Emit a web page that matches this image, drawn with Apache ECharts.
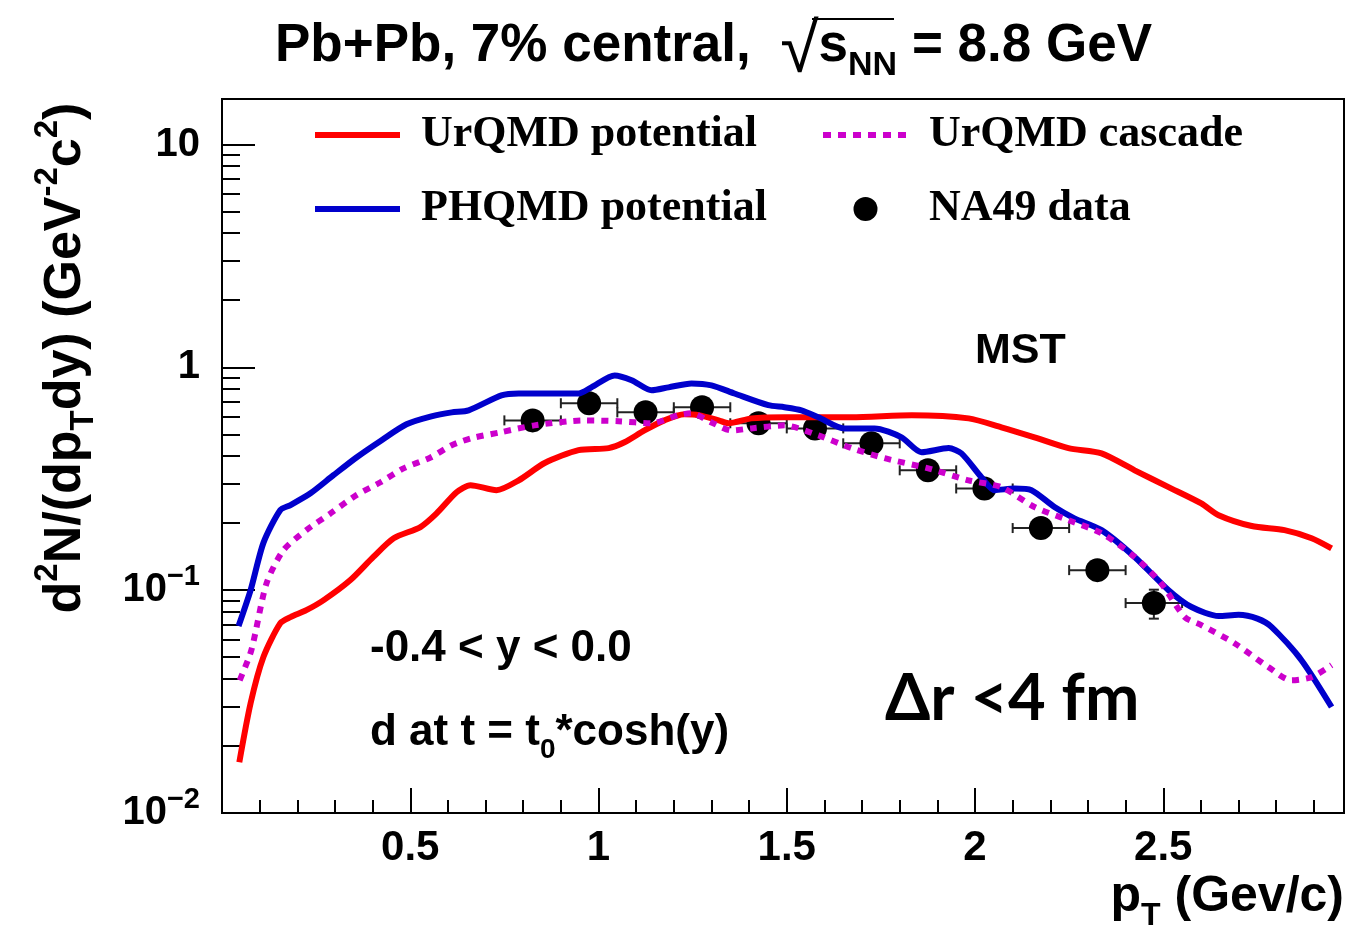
<!DOCTYPE html>
<html>
<head>
<meta charset="utf-8">
<title>d spectrum</title>
<script src="https://cdn.jsdelivr.net/npm/echarts@6/dist/echarts.min.js"></script>
<style>
  html, body { margin: 0; padding: 0; background: #fff; }
  #main { width: 1347px; height: 936px; }
</style>
</head>
<body>
<div id="main"></div>
<script>
var SANS = '"Liberation Sans", Arial, Helvetica, sans-serif';
var SERIF = '"Liberation Serif", "Times New Roman", serif';

// model curves, [pT, d2N/(dpT dy)]
var urqmdPotential = [
    [0.046, 0.0169], [0.076, 0.0311], [0.110, 0.0501], [0.155, 0.0711], [0.182, 0.0757],
    [0.224, 0.0813], [0.270, 0.0902], [0.341, 0.111], [0.402, 0.141], [0.456, 0.171],
    [0.527, 0.192], [0.570, 0.221], [0.623, 0.275], [0.660, 0.296], [0.729, 0.281],
    [0.788, 0.311], [0.857, 0.372], [0.947, 0.425], [1.027, 0.434], [1.069, 0.461],
    [1.122, 0.521], [1.175, 0.578], [1.228, 0.615], [1.266, 0.610], [1.319, 0.578],
    [1.345, 0.561], [1.406, 0.590], [1.494, 0.597], [1.672, 0.597], [1.832, 0.610],
    [1.983, 0.590], [2.070, 0.538], [2.158, 0.485], [2.248, 0.434], [2.336, 0.411],
    [2.424, 0.345], [2.514, 0.290], [2.601, 0.245], [2.647, 0.217], [2.735, 0.194],
    [2.822, 0.186], [2.894, 0.171], [2.947, 0.154]
];
var phqmdPotential = [
    [0.044, 0.069], [0.076, 0.100], [0.110, 0.163], [0.155, 0.229], [0.182, 0.241],
    [0.235, 0.272], [0.296, 0.328], [0.357, 0.394], [0.424, 0.471], [0.490, 0.555],
    [0.556, 0.602], [0.610, 0.628], [0.655, 0.641], [0.742, 0.748], [0.788, 0.763],
    [0.875, 0.763], [0.947, 0.763], [0.981, 0.813], [1.043, 0.920], [1.088, 0.875],
    [1.141, 0.789], [1.186, 0.813], [1.247, 0.847], [1.300, 0.830], [1.361, 0.763],
    [1.451, 0.676], [1.494, 0.662], [1.539, 0.641], [1.584, 0.597], [1.653, 0.532],
    [1.733, 0.532], [1.805, 0.485], [1.858, 0.416], [1.930, 0.434], [1.964, 0.411],
    [2.017, 0.321], [2.052, 0.281], [2.105, 0.286], [2.150, 0.281], [2.211, 0.236],
    [2.264, 0.210], [2.336, 0.186], [2.424, 0.141], [2.514, 0.100], [2.575, 0.084],
    [2.647, 0.0765], [2.700, 0.0775], [2.750, 0.0745], [2.788, 0.0683], [2.867, 0.0485],
    [2.947, 0.0299]
];
var urqmdCascade = [
    [0.047, 0.0394], [0.078, 0.0538], [0.118, 0.107], [0.163, 0.151], [0.224, 0.186],
    [0.288, 0.221], [0.357, 0.267], [0.421, 0.305], [0.482, 0.352], [0.554, 0.394],
    [0.610, 0.447], [0.663, 0.481], [0.742, 0.512], [0.830, 0.549], [0.963, 0.578],
    [1.053, 0.573], [1.141, 0.561], [1.212, 0.610], [1.247, 0.622], [1.300, 0.566],
    [1.353, 0.521], [1.406, 0.532], [1.494, 0.549], [1.584, 0.495], [1.672, 0.434],
    [1.760, 0.391], [1.876, 0.352], [1.983, 0.311], [2.070, 0.290], [2.158, 0.236],
    [2.248, 0.206], [2.336, 0.180], [2.424, 0.141], [2.495, 0.107], [2.557, 0.0757],
    [2.601, 0.0697], [2.689, 0.0578], [2.779, 0.0452], [2.840, 0.0394], [2.894, 0.0407],
    [2.947, 0.0461]
];

// NA49 data points
var na49Pt = [0.825, 0.975, 1.125, 1.275, 1.425, 1.575, 1.725, 1.875, 2.025, 2.175, 2.325, 2.475];
var na49Yield = [0.578, 0.690, 0.628, 0.662, 0.561, 0.532, 0.456, 0.345, 0.286, 0.190, 0.123, 0.0875];
var na49PtErr = [0.075, 0.075, 0.075, 0.075, 0.075, 0.075, 0.075, 0.075, 0.075, 0.075, 0.075, 0.075];
var na49YieldErr = [0.02, 0.02, 0.02, 0.02, 0.02, 0.02, 0.015, 0.012, 0.01, 0.008, 0.007, 0.013];

var na49Points = na49Pt.map(function (x, i) { return [x, na49Yield[i]]; });
var na49Errors = na49Pt.map(function (x, i) { return [x, na49Yield[i], na49PtErr[i], na49YieldErr[i]]; });

function errorBars(params, api) {
    var x = api.value(0), y = api.value(1), ex = api.value(2), ey = api.value(3);
    var l = api.coord([x - ex, y]), r = api.coord([x + ex, y]);
    var t = api.coord([x, y + ey]), b = api.coord([x, y - ey]);
    var cap = 5;
    var style = { stroke: '#222', lineWidth: 2 };
    function seg(x1, y1, x2, y2) {
        return { type: 'line', shape: { x1: x1, y1: y1, x2: x2, y2: y2 }, style: style };
    }
    return {
        type: 'group',
        children: [
            seg(l[0], l[1], r[0], r[1]),
            seg(l[0], l[1] - cap, l[0], l[1] + cap),
            seg(r[0], r[1] - cap, r[0], r[1] + cap),
            seg(t[0], t[1], b[0], b[1]),
            seg(t[0] - cap, t[1], t[0] + cap, t[1]),
            seg(b[0] - cap, b[1], b[0] + cap, b[1])
        ]
    };
}

// rich text pieces: a sub/superscript is moved by half of its one-sided padding
function txt(size, extra) {
    var s = { fontFamily: SANS, fontWeight: 'bold', fontSize: size, color: '#000', verticalAlign: 'middle' };
    for (var k in extra) s[k] = extra[k];
    return s;
}

var legendText = {
    fontFamily: SERIF, fontWeight: 'bold', fontSize: 44, lineHeight: 44,
    color: '#000', padding: [0, 0, 0, 16]
};
var hideDot = { opacity: 0 };

var chart = echarts.init(document.getElementById('main'));
chart.setOption({
    animation: false,
    backgroundColor: '#fff',
    title: [
        {
            text: '{t|Pb+Pb, 7% central,  }{rad|√}{t|s}{sub|NN}{t| = 8.8 GeV}',
            left: 275, top: 4, padding: 0,
            textStyle: {
                rich: {
                    t: txt(53),
                    rad: txt(70, { fontWeight: 'normal', padding: [14, 0, 0, 0] }),
                    sub: txt(34, { padding: [40, 0, 0, 0] })
                }
            }
        },
        {
            text: 'MST', left: 975, top: 330, padding: 0,
            textStyle: { fontFamily: SANS, fontWeight: 'bold', fontSize: 43, color: '#000' }
        },
        {
            text: '-0.4 < y < 0.0', left: 370, top: 627, padding: 0,
            textStyle: { fontFamily: SANS, fontWeight: 'bold', fontSize: 44, color: '#000' }
        },
        {
            text: '{t|d at t = t}{sub|0}{t|*cosh(y)}', left: 370, top: 702, padding: 0,
            textStyle: {
                rich: {
                    t: txt(44),
                    sub: txt(28, { padding: [34, 0, 0, 0] })
                }
            }
        },
        {
            text: 'Δr <4 fm', left: 885, top: 667, padding: 0,
            textStyle: { fontFamily: 'Lato, "Open Sans", sans-serif', fontWeight: 'bold', fontSize: 65, color: '#000' }
        },
        {
            text: '{t|p}{sub|T}{t| (Gev/c)}', right: 3, top: 862, padding: 0,
            textStyle: {
                rich: {
                    t: txt(50),
                    sub: txt(32, { padding: [38, 0, 0, 0] })
                }
            }
        }
    ],
    graphic: [
        {
            // bar of the square-root sign
            type: 'line',
            shape: { x1: 812, y1: 19, x2: 894, y2: 19 },
            style: { stroke: '#000', lineWidth: 2 }
        }
    ],
    legend: [
        {
            data: [
                { name: 'UrQMD potential', itemStyle: hideDot, lineStyle: { width: 6 } },
                { name: 'PHQMD potential', itemStyle: hideDot, lineStyle: { width: 6 } }
            ],
            orient: 'vertical', left: 312, top: 113,
            itemWidth: 85, itemHeight: 24, itemGap: 30, padding: 0,
            selectedMode: false,
            textStyle: legendText
        },
        {
            data: [
                { name: 'UrQMD cascade', itemStyle: hideDot, lineStyle: { width: 6, type: [8, 7] } },
                { name: 'NA49 data', itemStyle: { color: '#000', opacity: 1 } }
            ],
            orient: 'vertical', left: 820, top: 113,
            itemWidth: 85, itemHeight: 24, itemGap: 30, padding: 0,
            selectedMode: false,
            textStyle: legendText
        }
    ],
    grid: {
        left: 222, right: 3, top: 99, bottom: 123,
        show: true, borderColor: '#000', borderWidth: 2,
        outerBoundsMode: 'none'
    },
    xAxis: {
        type: 'value',
        min: 0, max: 2.98, interval: 0.5,
        axisLine: { show: true, lineStyle: { color: '#000', width: 2 } },
        axisTick: { show: true, inside: true, length: 25, lineStyle: { color: '#000', width: 2 } },
        minorTick: { show: true, splitNumber: 5, length: 13, lineStyle: { color: '#000', width: 2 } },
        splitLine: { show: false },
        axisLabel: {
            showMinLabel: false, showMaxLabel: false, margin: 14,
            fontFamily: SANS, fontWeight: 'bold', fontSize: 42, color: '#000',
            formatter: function (v) { return v === 0 ? '' : String(v); }
        }
    },
    yAxis: {
        type: 'log',
        min: 0.01, max: 16, interval: 1,
        name: '{t|d}{sup|2}{t|N/(dp}{sub|T}{t|dy) (GeV}{sup|-2}{t|c}{sup|2}{t|)}',
        nameLocation: 'middle', nameRotate: 90, nameGap: 122,
        nameTextStyle: {
            padding: [0, 0, 0, 196],
            rich: {
                t: txt(52),
                sup: txt(33, { padding: [0, 0, 36, 0] }),
                sub: txt(33, { padding: [36, 0, 0, 0] })
            }
        },
        axisLine: { show: true, lineStyle: { color: '#000', width: 2 } },
        axisTick: { show: true, inside: true, length: 33, lineStyle: { color: '#000', width: 2 } },
        minorTick: { show: true, splitNumber: 9, length: 18, lineStyle: { color: '#000', width: 2 } },
        splitLine: { show: false },
        axisLabel: {
            showMaxLabel: false, margin: 22,
            formatter: function (v) {
                var e = Math.round(Math.log10(v));
                if (e === 0) return '{t|1}';
                if (e === 1) return '{t|10}';
                return '{t|10}{sup|\u2212' + (-e) + '}';
            },
            rich: {
                t: txt(40),
                sup: txt(29, { padding: [0, 0, 26, 0] })
            }
        }
    },
    series: [
        {
            name: 'NA49 errors',
            type: 'custom',
            renderItem: errorBars,
            encode: { x: 0, y: 1 },
            data: na49Errors,
            silent: true
        },
        {
            name: 'NA49 data',
            type: 'scatter',
            symbol: 'circle',
            symbolSize: 24,
            itemStyle: { color: '#000', opacity: 1 },
            data: na49Points
        },
        {
            name: 'UrQMD potential',
            type: 'line',
            showSymbol: false, symbol: 'none',
            smooth: 0.25,
            lineStyle: { color: '#ff0000', width: 6 },
            itemStyle: { color: '#ff0000' },
            data: urqmdPotential
        },
        {
            name: 'PHQMD potential',
            type: 'line',
            showSymbol: false, symbol: 'none',
            smooth: 0.25,
            lineStyle: { color: '#0000cc', width: 6 },
            itemStyle: { color: '#0000cc' },
            data: phqmdPotential
        },
        {
            name: 'UrQMD cascade',
            type: 'line',
            showSymbol: false, symbol: 'none',
            smooth: 0.25,
            lineStyle: { color: '#cc00cc', width: 6, type: [7, 7] },
            itemStyle: { color: '#cc00cc' },
            data: urqmdCascade
        }
    ]
});
</script>
</body>
</html>
